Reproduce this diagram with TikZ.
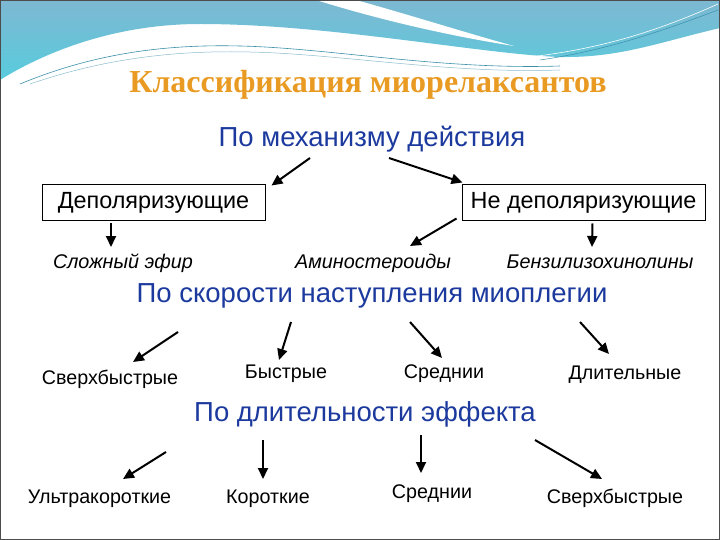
\documentclass[tikz,border=0pt]{standalone}
\usepackage{fontspec}
\setmainfont{Liberation Serif}
\setsansfont{Liberation Sans}
\usepackage{xcolor}
\usetikzlibrary{arrows.meta,positioning,calc}
\definecolor{titleorange}{HTML}{E99A22}
\definecolor{headblue}{HTML}{1C3A9E}
\definecolor{bandtop}{HTML}{7DB8D2}
\definecolor{bandlow}{HTML}{58CCDD}
\definecolor{bandline}{HTML}{3A8FA8}

\tikzset{
  heading/.style={text=headblue, anchor=base, font=\sffamily\fontsize{27.5}{31}\selectfont, inner sep=0pt},
  kind/.style={anchor=base, font=\sffamily\fontsize{19.7}{24}\selectfont, inner sep=0pt},
  subkind/.style={anchor=base, font=\sffamily\itshape\fontsize{19.8}{24}\selectfont, inner sep=0pt},
  kindbox/.style={draw=black, line width=0.9pt, minimum height=36pt, inner sep=0pt,
                  font=\sffamily\fontsize{23.4}{27}\selectfont},
  arr/.style={-{Triangle[length=11pt,width=10pt]}, line width=2pt, black}
}

\begin{document}
\begin{tikzpicture}[x=1pt,y=-1pt]
  \useasboundingbox (0,0) rectangle (720,540);
  % top band
  \shade[top color=bandtop, bottom color=bandlow]
    (0,0) -- (720,0) -- (720,28) .. controls (660,42) and (620,58) .. (560,57)
    .. controls (480,54) and (330,24) .. (200,24)
    .. controls (110,24) and (40,55) .. (0,80) -- cycle;
  \fill[white] (316,0) -- (356,0) .. controls (420,18) and (470,34) .. (514,46)
    .. controls (450,36) and (380,20) .. (316,0) -- cycle;
  \draw[bandline, line width=0.6pt] (20,84) .. controls (90,55) and (160,44) .. (240,46)
    .. controls (330,48) and (440,70) .. (560,66);
  \draw[bandline!60, line width=0.5pt] (30,84) .. controls (100,60) and (170,50) .. (250,52)
    .. controls (340,54) and (450,74) .. (560,70);
  \draw[white, line width=0.6pt] (520,58) .. controls (600,50) and (660,30) .. (718,4);
  \draw[bandline, line width=0.5pt] (540,60) .. controls (610,50) and (670,28) .. (718,10);
  \draw[bandline!80!black, line width=1pt] (0,0.5) -- (720,0.5);
  % frame
  \draw[gray!60!black, line width=1pt] (0.5,0.5) rectangle (719.5,539.5);

  % title
  \node[text=titleorange, anchor=base, font=\bfseries\fontsize{32}{36}\selectfont, inner sep=0pt] (title) at (368,93)
    {Классификация миорелаксантов};

  % mechanism of action
  \node[heading] (mech) at (372,147) {По механизму действия};
  \node[kindbox, minimum width=223pt] (depol) at (153.5,202.5) {Деполяризующие};
  \node[kindbox, minimum width=243pt] (nondepol) at (583.5,202.5) {Не деполяризующие};
  \node[subkind] (ester) at (123,268) {Сложный эфир};
  \node[subkind] (amino) at (373,268) {Аминостероиды};
  \node[subkind] (benzyl) at (600,268) {Бензилизохинолины};

  \draw[arr] ($(mech.base)+(-62,11)$) -- ($(depol)+(118,-17)$);
  \draw[arr] ($(mech.base)+(17,11)$) -- ($(nondepol)+(-121,-20)$);
  \draw[arr] ($(depol)+(-42.5,21)$) -- ($(ester.base)+(-12,-21)$);
  \draw[arr] ($(nondepol)+(-127,16)$) -- ($(amino.base)+(37,-22)$);
  \draw[arr] ($(nondepol)+(9,21)$) -- ($(benzyl.base)+(-8,-21)$);

  % onset speed
  \node[heading] (speed) at (372,302) {По скорости наступления миоплегии};
  \node[kind] (fast1) at (110,384) {Сверхбыстрые};
  \node[kind] (fast2) at (286,378) {Быстрые};
  \node[kind] (mid1) at (444,378) {Среднии};
  \node[kind] (long1) at (625,379) {Длительные};

  \draw[arr] ($(speed.base)+(-194,30)$) -- ($(fast1.base)+(23,-22)$);
  \draw[arr] ($(speed.base)+(-81,20)$) -- ($(fast2.base)+(-7,-18)$);
  \draw[arr] ($(speed.base)+(38,20)$) -- ($(mid1.base)+(-2,-20)$);
  \draw[arr] ($(speed.base)+(208,20)$) -- ($(long1.base)+(-16,-25)$);

  % effect duration
  \node[heading] (dur) at (365,421) {По длительности эффекта};
  \node[kind] (ultra) at (99.5,503) {Ультракороткие};
  \node[kind] (short) at (268,503) {Короткие};
  \node[kind] (mid2) at (432,498) {Среднии};
  \node[kind] (fast3) at (615,503) {Сверхбыстрые};

  \draw[arr] ($(dur.base)+(-199,31)$) -- ($(ultra.base)+(23.5,-24)$);
  \draw[arr] ($(dur.base)+(-102,19)$) -- ($(short.base)+(-5,-24)$);
  \draw[arr] ($(dur.base)+(56,14)$) -- ($(mid2.base)+(-11,-25)$);
  \draw[arr] ($(dur.base)+(170,19)$) -- ($(fast3.base)+(-13,-24)$);
\end{tikzpicture}
\end{document}
